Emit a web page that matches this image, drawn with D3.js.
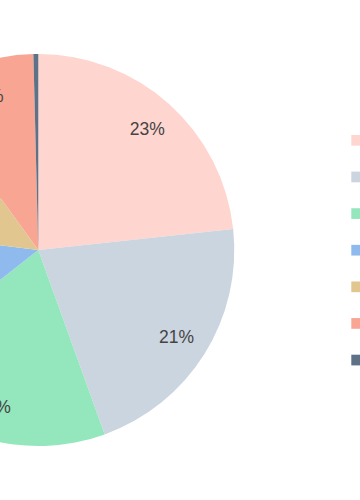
<!DOCTYPE html>
<html>
<head>
<meta charset="utf-8">
<script src="https://cdn.jsdelivr.net/npm/d3@7"></script>
<style>
  html, body { margin: 0; padding: 0; background: #fff; overflow: hidden; }
  svg { display: block; }
</style>
</head>
<body>
<svg id="chart" width="360" height="500"></svg>
<script>
const categories = ["Category 1", "Category 2", "Category 3", "Category 4", "Category 5", "Category 6", "Category 7"];
const values = [23.3, 21.2, 19.9, 12.6, 13.0, 9.6, 0.4];
const colors = ["#FFD5CF", "#CBD5DF", "#94E6BC", "#8EBAEE", "#E1C78F", "#F8A593", "#5D7286"];

const W = 360, H = 500;
const cx = 38.3, cy = 250, R = 196;

const svg = d3.select("#chart");
const data = categories.map((c, i) => ({ cat: c, value: values[i], color: colors[i] }));
const total = d3.sum(values);

const pie = d3.pie().sort(null).value(d => d.value).startAngle(0).endAngle(2 * Math.PI);
const arcs = pie(data);
const arc = d3.arc().innerRadius(0).outerRadius(R);
const labelArc = d3.arc().innerRadius(163).outerRadius(163);

const g = svg.append("g").attr("transform", `translate(${cx},${cy})`);
g.selectAll("path.slice").data(arcs).enter().append("path")
  .attr("class", "slice")
  .attr("d", arc)
  .attr("fill", d => d.data.color);

const fmt = v => Math.round(v / total * 100) + "%";
g.selectAll("text.lbl").data(arcs.filter(d => d.data.value / total >= 0.02)).enter().append("text")
  .attr("class", "lbl")
  .attr("transform", d => `translate(${labelArc.centroid(d)})`)
  .attr("text-anchor", "middle")
  .attr("dy", "0.36em")
  .attr("font-family", "'Liberation Sans', Arial, sans-serif")
  .attr("font-size", 17.5)
  .attr("fill", "#444")
  .text(d => fmt(d.data.value));

// legend (mostly beyond the right edge)
const legY = d3.scalePoint().domain(categories).range([140.3, 360]);
const leg = svg.append("g");
const items = leg.selectAll("g").data(data).enter().append("g")
  .attr("transform", d => `translate(351.3,${legY(d.cat)})`);
items.append("rect").attr("x", 0).attr("y", -5.3).attr("width", 10.7).attr("height", 10.7)
  .attr("fill", d => d.color);
items.append("text").attr("x", 20).attr("dy", "0.35em")
  .attr("font-family", "'Liberation Sans', Arial, sans-serif")
  .attr("font-size", 17).attr("fill", "#444")
  .text(d => d.cat);
</script>
</body>
</html>
